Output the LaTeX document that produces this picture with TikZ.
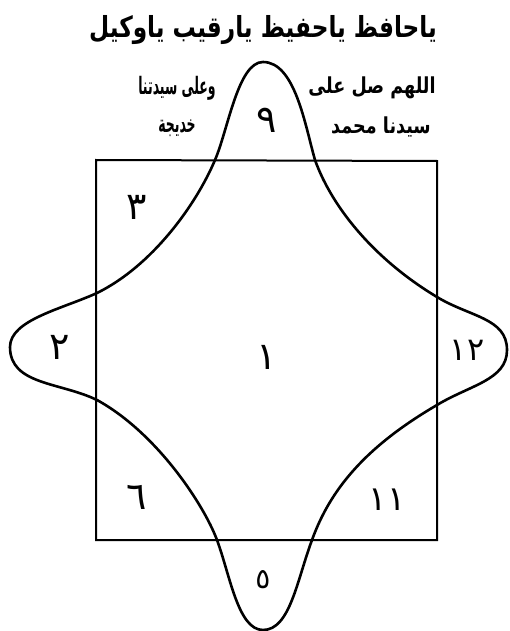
\documentclass[tikz,border=0pt]{standalone}
\usepackage{fontspec}
\newfontfamily\arabicfont[Script=Arabic]{DejaVu Sans}
\newfontfamily\narrowfont[Script=Arabic, FakeStretch=0.8]{DejaVu Sans}
\newfontfamily\tallfont[Script=Arabic, FakeStretch=0.52]{DejaVu Sans}
\TeXXeTstate=1
\usetikzlibrary{calc}
\tikzset{
  digit/.style = {font = \arabicfont\fontsize{38}{38}\selectfont, inner sep = 0pt},
  prayer/.style = {font = \tallfont\bfseries\fontsize{24}{24}\selectfont, inner sep = 0pt},
  outline/.style = {line width = 2.6pt, line join = round}
}
\begin{document}
\begin{tikzpicture}[x = 1pt, y = -1pt]
\useasboundingbox (0,0) rectangle (510,631);
% square
\coordinate(TL)at(96,160);
\coordinate(TR)at(437,161);
\coordinate(BR)at(437,540);
\coordinate(BL)at(96,540);
\path[draw, line width = 2pt](TL)to(TR)to(BR)to(BL)to cycle;
% tips of the lobes
\coordinate(Ttip)at(263,62);
\coordinate(Rtip)at(507,350);
\coordinate(Btip)at(263,630);
\coordinate(Ltip)at(10,347);
% where the lobes cross the square
\coordinate(T0)at(215,160);
\coordinate(T1)at(315,160);
\coordinate(R0)at(437,297);
\coordinate(R1)at(437,405);
\coordinate(B1)at(312,540);
\coordinate(B0)at(217,540);
\coordinate(L1)at(97,400);
\coordinate(L0)at(97,293);
% star
\path[draw, outline](Ttip)
  .. controls (295,62) and (305,125) .. (T1)
  .. controls (333,210) and (377,261) .. (R0)
  .. controls (470,317) and (507,318) .. (Rtip)
  .. controls (507,380) and (470,385) .. (R1)
  .. controls (365,447) and (330,490) .. (B1)
  .. controls (297,580) and (290,630) .. (Btip)
  .. controls (238,630) and (230,575) .. (B0)
  .. controls (204,505) and (157,433) .. (L1)
  .. controls (60,382) and (10,385) .. (Ltip)
  .. controls (10,320) and (62,309) .. (L0)
  .. controls (152,266) and (196,205) .. (T0)
  .. controls (228,130) and (238,62) .. (Ttip) -- cycle;
% title
\node[prayer, font = \narrowfont\bfseries\fontsize{29}{29}\selectfont](title)at(263,30){\beginR ياحافظ ياحفيظ يارقيب ياوكيل\endR};
% prayers beside the top lobe
\node[prayer](left1)at(177,88){\beginR وعلى سيدتنا\endR};
\node[prayer](left2)at(177,128){\beginR خديجة\endR};
\node[prayer, font = \narrowfont\bfseries\fontsize{22}{22}\selectfont](right1)at(372,88){\beginR اللهم صل على\endR};
\node[prayer, font = \narrowfont\bfseries\fontsize{22}{22}\selectfont](right2)at(381,127){\beginR سيدنا محمد\endR};
% numbers
\node[digit](n9)at(267,120){٩};
\node[digit](n3)at(137,207){٣};
\node[digit](n2)at(60,347){٢};
\node[digit](n1)at(267,357){١};
\node[digit, font = \arabicfont\fontsize{32}{32}\selectfont](n12)at(467,350){١٢};
\node[digit](n6)at(137,497){٦};
\node[digit, font = \arabicfont\fontsize{34}{34}\selectfont](n11)at(387,500){١١};
\node[digit, font = \arabicfont\fontsize{28}{28}\selectfont](n5)at(263,580){٥};
\end{tikzpicture}
\end{document}
